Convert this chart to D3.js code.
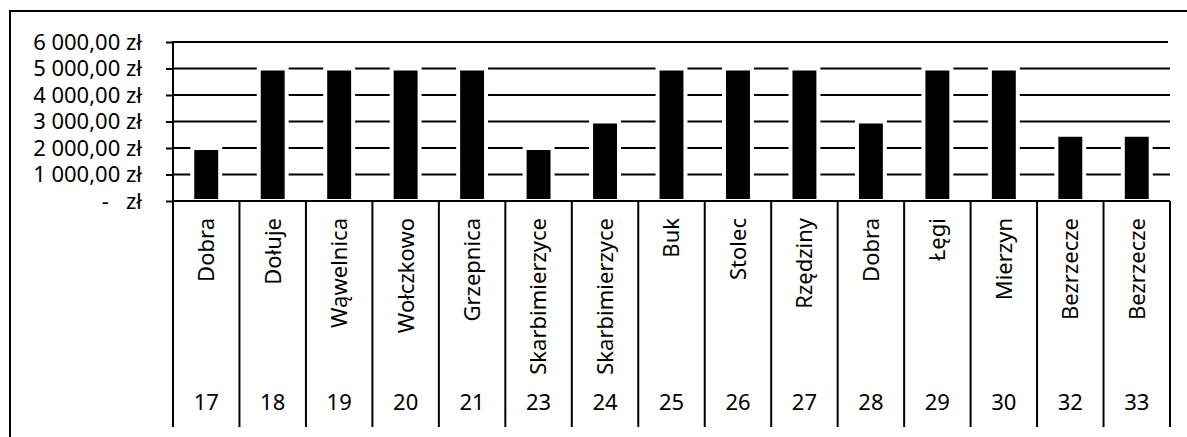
<!DOCTYPE html>
<html>
<head>
<meta charset="utf-8">
<script src="https://cdnjs.cloudflare.com/ajax/libs/d3/7.8.5/d3.min.js"></script>
<style>
 body { margin: 0; background: #fff; }
 text { font-family: "Noto Sans", "Liberation Sans", sans-serif; fill: #000; }
</style>
</head>
<body>
<script>
const width = 1187;
const height = 437;

// data
const places = ["Dobra", "Dołuje", "Wąwelnica", "Wołczkowo", "Grzepnica", "Skarbimierzyce",
 "Skarbimierzyce", "Buk", "Stolec", "Rzędziny", "Dobra", "Łęgi", "Mierzyn", "Bezrzecze", "Bezrzecze"];
const numbers = ["17", "18", "19", "20", "21", "23", "24", "25", "26", "27", "28", "29", "30", "32", "33"];
const amounts = [2000, 5000, 5000, 5000, 5000, 2000, 3000, 5000, 5000, 5000, 3000, 5000, 5000, 2500, 2500];
const yTicks = [0, 1000, 2000, 3000, 4000, 5000, 6000];

const plotL = 173, plotR = 1170, plotT = 42, base = 201, plotB = 427;
const fs = 22;

const svg = d3.select("body")
 .append("svg")
 .attr("width", width)
 .attr("height", height);

// outer frame (top and left edges only are visible)
svg.append("path")
 .attr("d", "M10," + height + "V11H" + width)
 .attr("fill", "none")
 .attr("stroke", "#000")
 .attr("stroke-width", 2);

const y = d3.scaleLinear().domain([0, 6000]).range([base, plotT]);
const cell = d3.scaleBand().domain(numbers).range([plotL, plotR]);
const x = d3.scaleBand().domain(numbers).range([plotL, plotR]).paddingInner(0.58).paddingOuter(0.29);

// gridlines
svg.append("g").selectAll("line")
 .data(yTicks)
 .enter()
 .append("line")
 .attr("x1", plotL)
 .attr("x2", (d) => d == 6000 ? plotR - 2 : plotR)
 .attr("y1", (d) => y(d))
 .attr("y2", (d) => y(d))
 .attr("stroke", "#000")
 .attr("stroke-width", 2);

// value axis
const fmt = function(d) {
 if (d == 0) return "-\u00a0\u00a0\u00a0zł";
 return d3.format(",.2f")(d).replace(/,/g, " ").replace(".", ",") + " zł";
};
const yAxis = svg.append("g")
 .attr("transform", "translate(" + plotL + ",0)")
 .call(d3.axisLeft(y).tickValues(yTicks).tickSize(7).tickPadding(24).tickFormat(fmt));
yAxis.select(".domain").remove();
yAxis.selectAll(".tick line").attr("stroke", "#000").attr("stroke-width", 2);
yAxis.selectAll(".tick text").attr("font-size", fs).attr("font-family", null);

svg.append("line")
 .attr("x1", plotL).attr("x2", plotL)
 .attr("y1", plotT - 1).attr("y2", plotB)
 .attr("stroke", "#000").attr("stroke-width", 2);

// bars
svg.append("g").selectAll("rect")
 .data(amounts)
 .enter()
 .append("rect")
 .attr("x", (d, i) => x(numbers[i]))
 .attr("y", (d) => y(d))
 .attr("width", x.bandwidth())
 .attr("height", (d) => base - y(d))
 .attr("fill", "#000")
 .attr("stroke", "#fff")
 .attr("stroke-width", 4);

// baseline over the bars
svg.append("line")
 .attr("x1", plotL).attr("x2", plotR)
 .attr("y1", base).attr("y2", base)
 .attr("stroke", "#000").attr("stroke-width", 2);

// category table below the axis
const cat = svg.append("g");
cat.selectAll("line")
 .data(numbers.concat(["end"]))
 .enter()
 .append("line")
 .attr("x1", (d) => d == "end" ? plotR : cell(d))
 .attr("x2", (d) => d == "end" ? plotR : cell(d))
 .attr("y1", base)
 .attr("y2", plotB)
 .attr("stroke", "#000")
 .attr("stroke-width", 2);

cat.selectAll(".name")
 .data(places)
 .enter()
 .append("text")
 .attr("class", "name")
 .attr("transform", (d, i) => "translate(" + (cell(numbers[i]) + cell.bandwidth() / 2) + ",218) rotate(-90)")
 .attr("dy", "0.36em")
 .attr("text-anchor", "end")
 .attr("font-size", fs)
 .text((d) => d);

cat.selectAll(".num")
 .data(numbers)
 .enter()
 .append("text")
 .attr("class", "num")
 .attr("x", (d) => cell(d) + cell.bandwidth() / 2)
 .attr("y", 410)
 .attr("text-anchor", "middle")
 .attr("font-size", fs)
 .text((d) => d);
</script>
</body>
</html>
